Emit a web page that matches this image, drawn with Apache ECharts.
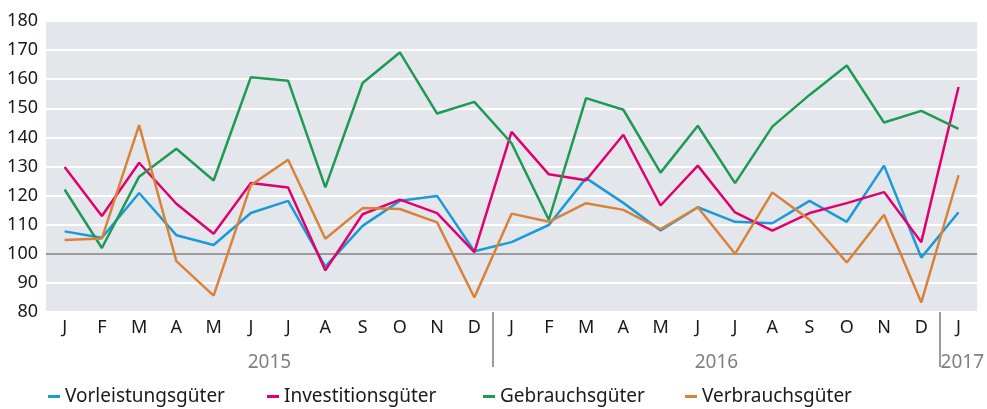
<!DOCTYPE html>
<html>
<head>
<meta charset="utf-8">
<script src="https://cdn.jsdelivr.net/npm/echarts@6/dist/echarts.min.js"></script>
<style>
html, body { margin: 0; padding: 0; background: #fff; }
#main { width: 987px; height: 409px; }
</style>
</head>
<body>
<div id="main"></div>
<script>
var months = ['J','F','M','A','M','J','J','A','S','O','N','D',
	'J','F','M','A','M','J','J','A','S','O','N','D','J'];
// Jahreslabels auf der Hilfsachse (0..25 = Monatsgrenzen)
var yearPos = [6, 18, 24.6];
var yearLabels = ['2015', '2016', '2017'];
var yearBreaks = [12, 24];
var yTicks = [80, 90, 100, 110, 120, 130, 140, 150, 160, 170, 180];

var vorleistung = [107.7, 105.5, 120.9, 106.4, 103, 114, 118.2, 95.6, 109.6, 118.2, 119.9, 100.9,
	104, 109.9, 126, 117.5, 108, 116, 111, 110.5, 118.2, 111, 130.3, 98.7, 114.3];
var investition = [129.8, 113, 131.3, 117.2, 106.9, 124.3, 122.8, 94.3, 113.6, 118.6, 114, 100.6,
	141.9, 127.3, 125.3, 140.9, 116.6, 130.3, 114.2, 108, 114, 117.4, 121.2, 104, 157.3];
var gebrauch = [122.1, 102, 126.5, 136.1, 125.2, 160.7, 159.5, 122.8, 158.7, 169.2, 148.2, 152.2,
	138, 111.7, 153.5, 149.5, 127.9, 144, 124.3, 143.7, 154.6, 164.7, 145.1, 149.1, 142.9];
var verbrauch = [104.7, 105.3, 144.2, 97.5, 85.6, 123.6, 132.3, 105.2, 115.7, 115.4, 110.8, 85,
	113.8, 111, 117.4, 115.1, 108.5, 116, 100, 121.1, 111.7, 97, 113.4, 83.3, 127];

var names = ['Vorleistungsgüter', 'Investitionsgüter', 'Gebrauchsgüter', 'Verbrauchsgüter'];
var colors = ['#1b9ad6', '#e2006f', '#1e9a55', '#d98239'];
var legendLeft = [48, 267, 483, 685];
var FONT = 'Noto Sans';

var myChart = echarts.init(document.getElementById('main'));

function lineSeries(i, data) {
	return {
		name: names[i],
		type: 'line',
		data: data,
		symbol: 'none',
		lineStyle: { width: 2.5, color: colors[i] },
		itemStyle: { color: colors[i] },
		z: 3
	};
}

var series = [
	lineSeries(0, vorleistung),
	lineSeries(1, investition),
	lineSeries(2, gebrauch),
	lineSeries(3, verbrauch)
];
// 100er-Linie
series[0].markLine = {
	silent: true,
	symbol: 'none',
	label: { show: false },
	lineStyle: { color: '#9b9b9b', width: 2, type: 'solid' },
	data: [{ yAxis: 100 }],
	z: 2
};

// eine Legende je Eintrag, damit die Abstaende stimmen
var legends = names.map(function (n, i) {
	return {
		data: [n],
		left: legendLeft[i],
		top: 387,
		padding: 0,
		icon: 'rect',
		itemWidth: 12,
		itemHeight: 3,
		textStyle: { fontSize: 19, color: '#1a1a1a', fontFamily: FONT }
	};
});

var option = {
	backgroundColor: '#fff',
	animation: false,
	textStyle: { fontFamily: FONT },
	grid: {
		left: 46,
		right: 9,
		top: 21,
		bottom: 97,
		show: true,
		backgroundColor: '#e3e7eb',
		borderWidth: 0
	},
	legend: legends,
	xAxis: [{
		type: 'category',
		data: months,
		boundaryGap: true,
		axisLine: { show: false },
		axisTick: { show: false },
		axisLabel: { interval: 0, fontSize: 18, color: '#1a1a1a', margin: 7 }
	}, {
		type: 'value',
		position: 'bottom',
		min: 0,
		max: 25,
		axisLine: { show: false },
		axisTick: {
			show: true,
			customValues: yearBreaks,
			length: 55,
			lineStyle: { color: '#9b9b9b', width: 2 }
		},
		splitLine: { show: false },
		axisLabel: {
			customValues: yearPos,
			margin: 41,
			fontSize: 19,
			color: '#808080',
			formatter: function (v) {
				var k = yearPos.indexOf(v);
				return k >= 0 ? yearLabels[k] : '';
			}
		}
	}],
	yAxis: {
		type: 'value',
		min: yTicks[0],
		max: yTicks[yTicks.length - 1],
		interval: 10,
		axisLine: { show: false },
		axisTick: { show: false },
		axisLabel: { fontSize: 18, color: '#1a1a1a', margin: 8 },
		splitLine: { lineStyle: { color: '#ffffff', width: 2 } }
	},
	series: series
};

myChart.setOption(option);
</script>
</body>
</html>
